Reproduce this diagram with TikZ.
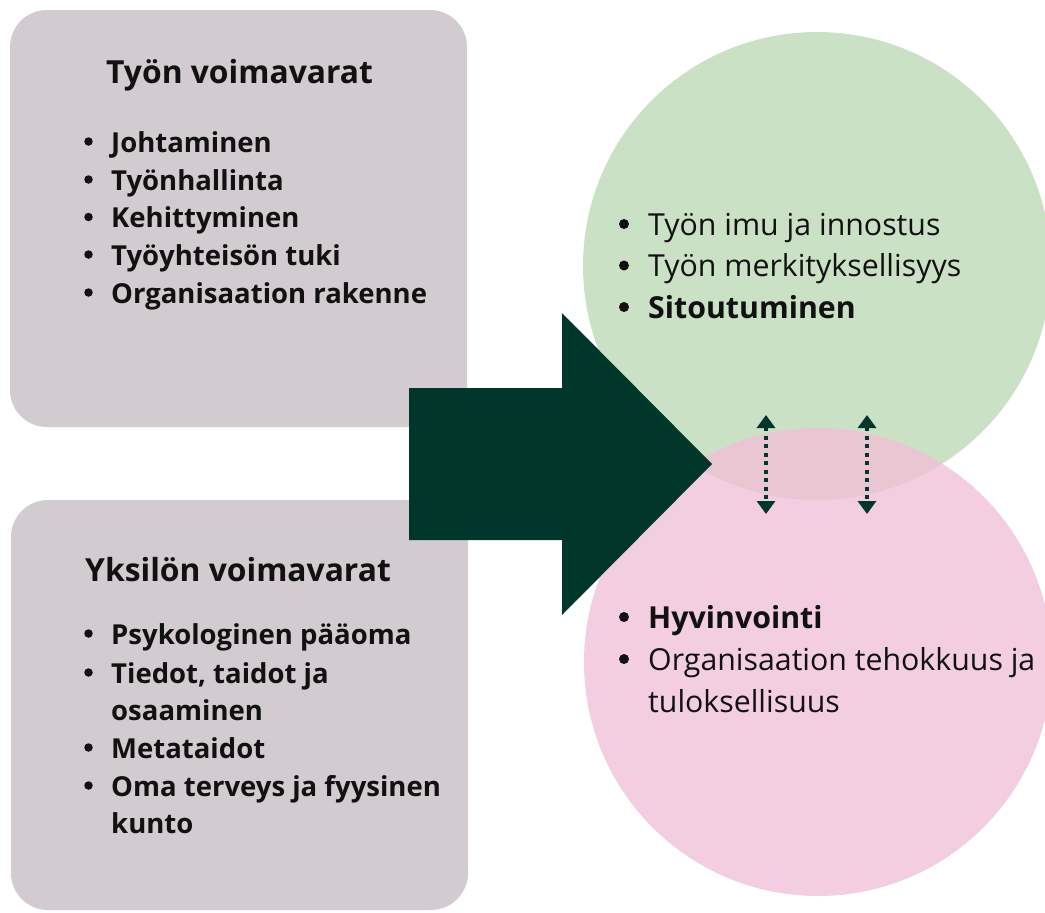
\documentclass[tikz,border=0pt]{standalone}
\usepackage{fontspec}
\setmainfont{Open Sans}
\usetikzlibrary{arrows.meta}
\definecolor{boxc}{HTML}{D2CBCF}
\definecolor{greenc}{HTML}{CBE1C5}
\definecolor{pinkc}{HTML}{F3CDE0}
\definecolor{overc}{HTML}{E8C7D2}
\definecolor{arrowc}{HTML}{00372A}
\definecolor{inkc}{HTML}{111111}
\begin{document}
\begin{tikzpicture}[x=1pt,y=-1pt,
  panel/.style={fill=boxc, rounded corners=37pt, inner sep=0pt},
  blob/.style={circle, inner sep=0pt, minimum size=468pt},
  ttl/.style={font=\bfseries\fontsize{31.8}{38}\selectfont, text=inkc, anchor=base west, inner sep=0pt},
  btxt/.style={font=\bfseries\fontsize{27.5}{33}\selectfont, text=inkc, anchor=base west, inner sep=0pt},
  ctxt/.style={font=\fontsize{30.3}{36}\selectfont, text=inkc, anchor=base west, inner sep=0pt},
  cbold/.style={font=\bfseries\fontsize{30.3}{36}\selectfont, text=inkc, anchor=base west, inner sep=0pt},
  bbul/.style={circle, fill=inkc, inner sep=0pt, minimum size=8.5pt},
  cbul/.style={circle, fill=inkc, inner sep=0pt, minimum size=10pt},
  dotarrow/.style={draw=arrowc, line width=4pt, dash pattern=on 4pt off 4.5pt,
    {Triangle[width=18pt,length=13pt]}-{Triangle[width=18pt,length=13pt]}}]
\useasboundingbox (0,0) rectangle (1045,913);

% panels
\node[panel, minimum width=457pt, minimum height=417pt] (tbox) at (238.5,218.5) {};
\node[panel, minimum width=457pt, minimum height=410pt] (bbox) at (239.5,705) {};

% circles
\node[blob, fill=greenc] (gc) at (817,266) {};
\node[blob, fill=pinkc] (pc) at (818,662) {};
\begin{scope}
  \clip (817,266) circle (234pt);
  \fill[overc] (818,662) circle (234pt);
\end{scope}

% big arrow
\fill[arrowc] (409,388) -- (562,388) -- (562,313) -- (712,464) -- (562,615)
  -- (562,540) -- (409,540) -- cycle;

% dotted double arrows
\coordinate (a1t) at (766,415);
\coordinate (a1b) at (766,514);
\coordinate (a2t) at (867,415);
\coordinate (a2b) at (867,514);
\draw[dotarrow] (a1t) -- (a1b);
\draw[dotarrow] (a2t) -- (a2b);

% top panel text
\node[ttl] (t0) at (106,83) {Työn voimavarat};
\foreach \y/\t [count=\i] in {152/Johtaminen, 190/Työnhallinta, 227.5/Kehittyminen,
  265/Työyhteisön tuki, 303/Organisaation rakenne}{
  \node[bbul] (tb\i) at (88.5,\y-10.5) {};
  \node[btxt] (tt\i) at (111,\y) {\t};
}

% bottom panel text
\node[ttl] (b0) at (85,581) {Yksilön voimavarat};
\node[bbul] (bb1) at (88.5,633.5) {};
\node[btxt] (bt1) at (111,644) {Psykologinen pääoma};
\node[bbul] (bb2) at (88.5,672.5) {};
\node[btxt] (bt2) at (111,683) {Tiedot, taidot ja};
\node[btxt] (bt2b) at (111,720.5) {osaaminen};
\node[bbul] (bb3) at (88.5,747.5) {};
\node[btxt] (bt3) at (111,758) {Metataidot};
\node[bbul] (bb4) at (88.5,785.5) {};
\node[btxt] (bt4) at (111,796) {Oma terveys ja fyysinen};
\node[btxt] (bt4b) at (111,833.5) {kunto};

% green circle text
\node[cbul] (gb1) at (624,224) {};
\node[ctxt] (gt1) at (648,235) {Työn imu ja innostus};
\node[cbul] (gb2) at (624,265.5) {};
\node[ctxt] (gt2) at (648,276.5) {Työn merkityksellisyys};
\node[cbul] (gb3) at (624,307) {};
\node[cbold] (gt3) at (648,318) {Sitoutuminen};

% pink circle text
\node[cbul] (pb1) at (624,617) {};
\node[cbold] (pt1) at (648,628) {Hyvinvointi};
\node[cbul] (pb2) at (624,659) {};
\node[ctxt] (pt2) at (648,670) {Organisaation tehokkuus ja};
\node[ctxt] (pt2b) at (648,712) {tuloksellisuus};
\end{tikzpicture}
\end{document}
